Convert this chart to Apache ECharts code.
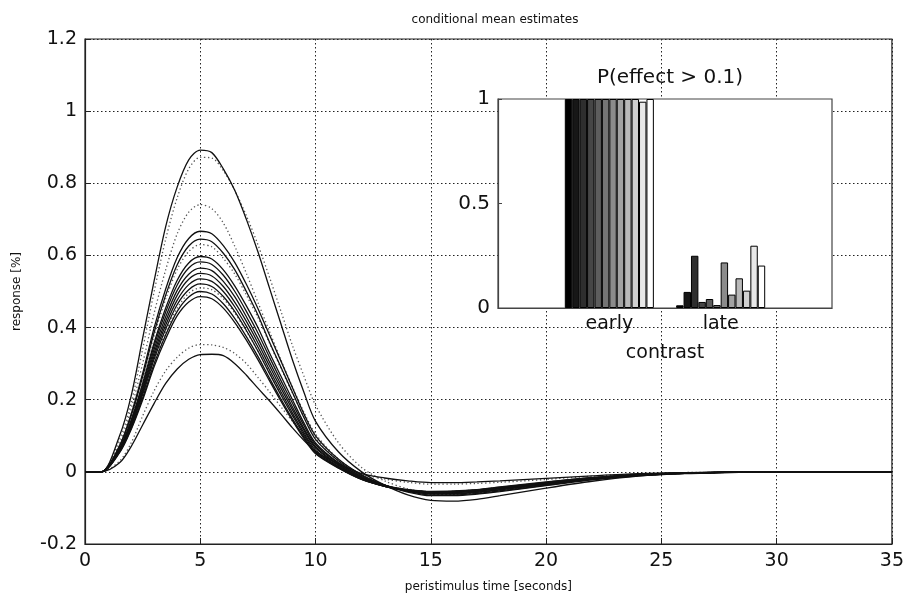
<!DOCTYPE html>
<html>
<head>
<meta charset="utf-8">
<script src="https://cdn.jsdelivr.net/npm/echarts@6/dist/echarts.min.js"></script>
<style>
html,body{margin:0;padding:0;background:#fff;}
#chart{width:907px;height:598px;}
</style>
</head>
<body>
<div id="chart"></div>
<script>
// ---- data ----
const timeSec = [0,0.7,1.5,2,2.5,3,3.5,4,4.5,5,5.5,6,6.5,7,7.5,8,8.5,9,9.5,10,11,12,13,14,15,16,17,18,20,22,24,26,28,30,35];

const solid1  = [0,0,0.10,0.21,0.37,0.53,0.68,0.79,0.865,0.892,0.885,0.84,0.78,0.70,0.61,0.51,0.41,0.31,0.22,0.14,0.055,0.0,-0.037,-0.064,-0.079,-0.081,-0.076,-0.066,-0.045,-0.026,-0.012,-0.005,-0.002,0,0];
const solid2  = [0,0,0.073,0.16,0.273,0.40,0.507,0.594,0.647,0.667,0.66,0.627,0.58,0.52,0.453,0.38,0.307,0.233,0.16,0.10,0.035,-0.008,-0.037,-0.056,-0.066,-0.066,-0.062,-0.055,-0.038,-0.022,-0.011,-0.004,-0.001,0,0];
const solid3  = [0,0,0.071,0.155,0.264,0.387,0.49,0.574,0.626,0.645,0.638,0.606,0.56,0.50,0.435,0.36,0.29,0.22,0.15,0.09,0.03,-0.01,-0.037,-0.054,-0.064,-0.064,-0.06,-0.053,-0.037,-0.021,-0.01,-0.004,-0.001,0,0];
const solid4  = [0,0,0.066,0.143,0.245,0.358,0.454,0.531,0.579,0.597,0.59,0.56,0.515,0.46,0.40,0.33,0.265,0.20,0.135,0.08,0.025,-0.013,-0.037,-0.052,-0.061,-0.061,-0.057,-0.05,-0.035,-0.02,-0.01,-0.004,-0.001,0,0];
const solid5  = [0,0,0.064,0.14,0.239,0.35,0.443,0.518,0.565,0.582,0.575,0.545,0.50,0.445,0.385,0.318,0.253,0.19,0.128,0.075,0.023,-0.014,-0.038,-0.052,-0.06,-0.06,-0.056,-0.049,-0.034,-0.02,-0.01,-0.004,-0.001,0,0];
const solid6  = [0,0,0.062,0.136,0.232,0.34,0.43,0.503,0.548,0.565,0.558,0.528,0.485,0.43,0.37,0.305,0.242,0.18,0.12,0.07,0.02,-0.016,-0.039,-0.052,-0.059,-0.058,-0.054,-0.047,-0.033,-0.019,-0.009,-0.003,-0.001,0,0];
const solid7  = [0,0,0.06,0.132,0.226,0.33,0.418,0.49,0.534,0.55,0.543,0.514,0.47,0.417,0.358,0.294,0.232,0.172,0.115,0.066,0.018,-0.018,-0.04,-0.052,-0.058,-0.057,-0.053,-0.046,-0.032,-0.018,-0.009,-0.003,-0.001,0,0];
const solid8  = [0,0,0.059,0.128,0.22,0.321,0.407,0.476,0.519,0.535,0.528,0.50,0.457,0.404,0.346,0.283,0.222,0.163,0.108,0.06,0.015,-0.019,-0.04,-0.051,-0.057,-0.056,-0.052,-0.045,-0.031,-0.018,-0.008,-0.003,-0.001,0,0];
const solid9  = [0,0,0.057,0.125,0.214,0.313,0.396,0.464,0.505,0.521,0.514,0.486,0.444,0.392,0.335,0.273,0.213,0.156,0.102,0.056,0.013,-0.02,-0.04,-0.051,-0.056,-0.055,-0.051,-0.044,-0.03,-0.017,-0.008,-0.003,-0.001,0,0];
const solid10 = [0,0,0.055,0.12,0.205,0.30,0.38,0.445,0.485,0.50,0.493,0.466,0.425,0.375,0.32,0.26,0.202,0.147,0.096,0.052,0.011,-0.021,-0.04,-0.05,-0.055,-0.054,-0.05,-0.043,-0.029,-0.016,-0.008,-0.003,-0.001,0,0];
const solid11 = [0,0,0.053,0.117,0.199,0.292,0.369,0.433,0.471,0.486,0.48,0.454,0.414,0.365,0.311,0.253,0.196,0.142,0.092,0.05,0.01,-0.021,-0.039,-0.049,-0.054,-0.053,-0.049,-0.042,-0.028,-0.016,-0.007,-0.003,-0.001,0,0];
const solid12 = [0,0,0.025,0.07,0.13,0.19,0.245,0.285,0.312,0.325,0.326,0.322,0.30,0.268,0.232,0.197,0.16,0.122,0.087,0.056,0.022,-0.005,-0.017,-0.025,-0.03,-0.03,-0.028,-0.025,-0.018,-0.011,-0.005,-0.002,-0.001,0,0];

const dotted1 = [0,0,0.09,0.19,0.34,0.50,0.645,0.76,0.84,0.872,0.87,0.835,0.78,0.71,0.63,0.54,0.445,0.35,0.265,0.185,0.08,0.012,-0.025,-0.047,-0.06,-0.062,-0.058,-0.05,-0.035,-0.02,-0.01,-0.004,-0.001,0,0];
const dotted2 = [0,0,0.08,0.175,0.30,0.44,0.56,0.66,0.72,0.741,0.73,0.69,0.625,0.55,0.47,0.39,0.31,0.235,0.165,0.105,0.035,-0.008,-0.037,-0.054,-0.063,-0.063,-0.059,-0.052,-0.036,-0.021,-0.01,-0.004,-0.001,0,0];
const dotted3 = [0,0,0.069,0.151,0.258,0.378,0.479,0.561,0.611,0.63,0.624,0.592,0.548,0.49,0.428,0.357,0.287,0.218,0.152,0.094,0.03,-0.01,-0.036,-0.053,-0.062,-0.062,-0.058,-0.051,-0.036,-0.02,-0.01,-0.004,-0.001,0,0];
const dotted4 = [0,0,0.056,0.122,0.209,0.306,0.388,0.454,0.495,0.51,0.505,0.48,0.44,0.39,0.335,0.275,0.215,0.158,0.105,0.06,0.015,-0.018,-0.038,-0.049,-0.055,-0.054,-0.05,-0.043,-0.03,-0.017,-0.008,-0.003,-0.001,0,0];
const dotted5 = [0,0,0.03,0.08,0.155,0.225,0.28,0.318,0.343,0.353,0.352,0.345,0.328,0.30,0.262,0.222,0.18,0.14,0.10,0.067,0.025,-0.005,-0.02,-0.029,-0.034,-0.034,-0.032,-0.029,-0.021,-0.012,-0.006,-0.002,-0.001,0,0];

const solidCurves  = [solid1,solid2,solid3,solid4,solid5,solid6,solid7,solid8,solid9,solid10,solid11,solid12];
const dottedCurves = [dotted1,dotted2,dotted3,dotted4,dotted5];

// inset bar chart: P(effect > 0.1)
const insetCategories = ['', 'early', 'late', ''];
const earlyProb = [1,1,1,1,1,1,1,1,1,1,0.987,1];
const lateProb  = [0.013,0.077,0.25,0.029,0.043,0.014,0.218,0.064,0.142,0.083,0.298,0.203];

const xTicks = [0,5,10,15,20,25,30,35];
const yTicks = [-0.2,0,0.2,0.4,0.6,0.8,1,1.2];

// ---- chart ----
const FONT = 'DejaVu Sans';
const chart = echarts.init(document.getElementById('chart'));

function pairs(ys){ return timeSec.map((t,i)=>[t,ys[i]]); }

const series = [];
dottedCurves.forEach((c)=>{
  series.push({type:'line', xAxisIndex:0, yAxisIndex:0, data:pairs(c), showSymbol:false, smooth:0.3,
    lineStyle:{color:'#555', width:1.3, type:[1.3,2.6]}, z:2, silent:true});
});
solidCurves.forEach((c)=>{
  series.push({type:'line', xAxisIndex:0, yAxisIndex:0, data:pairs(c), showSymbol:false, smooth:0.3,
    lineStyle:{color:'#111', width:1.3}, z:3, silent:true});
});
const nBars = earlyProb.length;
for(let i=0;i<nBars;i++){
  const g = Math.round(255*i/(nBars-1));
  series.push({type:'bar', xAxisIndex:1, yAxisIndex:1, data:['-', earlyProb[i], lateProb[i], '-'],
    barGap:'0%', barCategoryGap:'20%',
    itemStyle:{color:`rgb(${g},${g},${g})`, borderColor:'#000', borderWidth:1},
    z:10, silent:true});
}

const gridDash = {color:'#222', width:1, type:[1.5,2.5]};

chart.setOption({
  animation:false,
  backgroundColor:'#fff',
  title:[
    {text:'conditional mean estimates', left:490, top:9, textAlign:'center',
      textStyle:{fontFamily:FONT, fontSize:12, fontWeight:'normal', color:'#111'}},
    {text:'P(effect > 0.1)', left:665, top:63, textAlign:'center',
      textStyle:{fontFamily:FONT, fontSize:20, fontWeight:'normal', color:'#111'}}
  ],
  grid:[
    {left:85, right:15, top:39, bottom:49, show:true, borderColor:'#222', borderWidth:1.2, backgroundColor:'transparent'},
    {left:498, right:75, top:99, bottom:290, show:true, borderColor:'#444', borderWidth:1.2, backgroundColor:'#fff', z:5}
  ],
  xAxis:[
    {type:'value', gridIndex:0, min:0, max:35, interval:5,
      name:'peristimulus time [seconds]', nameLocation:'middle', nameGap:37,
      nameTextStyle:{fontFamily:FONT, fontSize:12, color:'#111'},
      axisLine:{onZero:false, lineStyle:{color:'#222', width:1.2}},
      axisTick:{inside:true, length:6, lineStyle:{color:'#222'}},
      axisLabel:{fontFamily:FONT, fontSize:19, color:'#111', margin:8, formatter:v=>xTicks.includes(v)?String(v):''},
      splitLine:{show:true, lineStyle:gridDash}},
    {type:'category', gridIndex:1, data:insetCategories, boundaryGap:false,
      name:'contrast', nameLocation:'middle', nameGap:36,
      nameTextStyle:{fontFamily:FONT, fontSize:19, color:'#111'},
      axisLine:{onZero:false, lineStyle:{color:'#444', width:1.2}},
      axisTick:{show:false},
      axisLabel:{interval:0, fontFamily:FONT, fontSize:19, color:'#111', margin:7},
      splitLine:{show:false}, z:6}
  ],
  yAxis:[
    {type:'value', gridIndex:0, min:-0.2, max:1.2, interval:0.2,
      name:'response [%]', nameLocation:'middle', nameGap:62, nameRotate:90,
      nameTextStyle:{fontFamily:FONT, fontSize:12, color:'#111'},
      axisLine:{show:true, onZero:false, lineStyle:{color:'#222', width:1.2}},
      axisTick:{show:true, inside:true, length:6, lineStyle:{color:'#222'}},
      axisLabel:{fontFamily:FONT, fontSize:19, color:'#111', margin:8,
        formatter:v=>{const t=yTicks.find(k=>Math.abs(k-v)<1e-9); return t===undefined?'':String(t);}},
      splitLine:{show:true, lineStyle:gridDash}},
    {type:'value', gridIndex:1, min:0, max:1, interval:0.5,
      axisLine:{show:true, onZero:false, lineStyle:{color:'#444', width:1.2}},
      axisTick:{show:true, inside:true, length:4, lineStyle:{color:'#444'}},
      axisLabel:{fontFamily:FONT, fontSize:20, color:'#111', margin:8},
      splitLine:{show:false}, z:6}
  ],
  series:series
});
</script>
</body>
</html>
